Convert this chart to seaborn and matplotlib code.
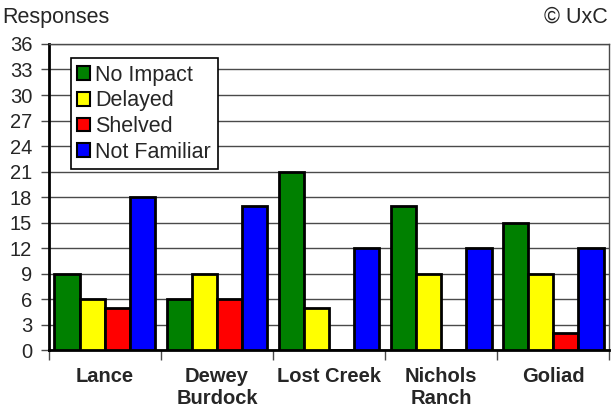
import numpy as np
import pandas as pd
import matplotlib
matplotlib.use('Agg')
import matplotlib.pyplot as plt
import seaborn as sns

sites = ['Lance', 'Dewey\nBurdock', 'Lost Creek', 'Nichols\nRanch', 'Goliad']
series = ['No Impact', 'Delayed', 'Shelved', 'Not Familiar']
no_impact = [9, 6, 21, 17, 15]
delayed = [6, 9, 5, 9, 9]
shelved = [5, 6, 0, 0, 2]
not_familiar = [18, 17, 12, 12, 12]
colors = {'No Impact': '#008000', 'Delayed': '#FFFF00', 'Shelved': '#FF0000', 'Not Familiar': '#0000FF'}

def make_df():
  rows = []
  for s, vals in zip(series, [no_impact, delayed, shelved, not_familiar]):
    for site, v in zip(sites, vals):
      rows.append({'Site': site, 'Series': s, 'Responses': v})
  return pd.DataFrame(rows)


def plot(df):
  sns.set_style('white')
  plt.rcParams['font.family'] = ['Liberation Sans', 'DejaVu Sans']
  fs = 14.5
  fig = plt.figure(figsize=(6.11, 4.11), dpi=100)
  ax = fig.add_axes([0.080, 0.148, 0.917, 0.745])

  sns.barplot(ax=ax, data=df, x='Site', y='Responses', hue='Series', hue_order=series,
              palette=colors, saturation=1, edgecolor='black', linewidth=2, width=0.9,
              gap=0, zorder=3)

  ax.set_ylim(0, 36)
  ax.set_xlim(-0.5, len(sites) - 0.5)
  ax.set_yticks(np.arange(0, 37, 3))
  ax.yaxis.grid(True, color='#4a4a4a', lw=1, zorder=0)
  ax.set_axisbelow(True)
  ax.tick_params(axis='y', labelsize=fs, length=6, width=1, color='#4a4a4a', left=True, pad=6)
  ax.set_xticks(range(len(sites)))
  ax.set_xticklabels(sites, fontsize=fs, fontweight='bold', linespacing=1.2)
  ax.tick_params(axis='x', which='major', length=0, pad=12)
  ax.set_xticks(np.arange(-0.5, len(sites), 1), minor=True)
  ax.tick_params(axis='x', which='minor', length=7, width=1, color='#4a4a4a', bottom=True)
  ax.set_xlabel('')
  ax.set_ylabel('')

  for side in ['left', 'bottom']:
    ax.spines[side].set_color('black')
    ax.spines[side].set_linewidth(2)
  for side in ['top', 'right']:
    ax.spines[side].set_color('#4a4a4a')
    ax.spines[side].set_linewidth(1)

  leg = ax.legend(loc='upper left', bbox_to_anchor=(0.039, 0.954), fontsize=15.5, frameon=True,
                  fancybox=False, edgecolor='black', framealpha=1, handlelength=0.6,
                  handleheight=0.6, handletextpad=0.25, labelspacing=0.22, borderpad=0.3,
                  borderaxespad=0)
  leg.get_frame().set_linewidth(1.2)
  for h in leg.legend_handles:
    h.set_linewidth(1.5)

  fig.text(0.003, 0.958, 'Responses', fontsize=15.5, ha='left', va='center')
  fig.text(0.995, 0.958, '\u00a9 UxC', fontsize=15.5, ha='right', va='center')

  fig.savefig('out.png', dpi=100)


def main():
  plot(make_df())

if __name__ == '__main__':
  main()
